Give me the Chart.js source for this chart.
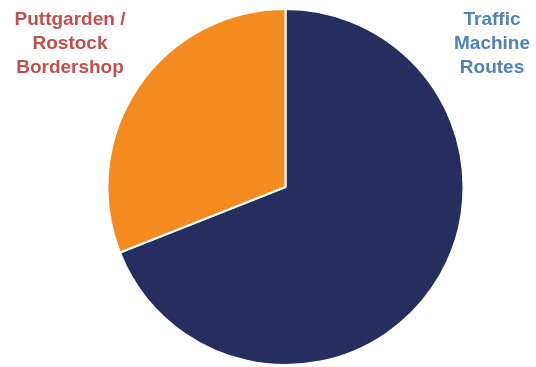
<!DOCTYPE html>
<html>
<head>
<meta charset="utf-8">
<script src="https://cdn.jsdelivr.net/npm/chart.js@4"></script>
<style>
  html, body { margin: 0; padding: 0; background: #fff; }
  #wrap { width: 536px; height: 367px; }
</style>
</head>
<body>
<div id="wrap"><canvas id="pie"></canvas></div>
<script>
const categories = ["Traffic Machine Routes", "Puttgarden / Rostock Bordershop"];
const shares = [69, 31];
const sliceColors = ["#252e5e", "#f48b1f"];

// labels outside the pie, drawn as text in the corners
const cornerLabels = {
  id: "cornerLabels",
  afterDraw(chart) {
    const ctx = chart.ctx;
    ctx.save();
    ctx.font = "bold 19px 'Liberation Sans', Arial, sans-serif";
    ctx.textAlign = "center";
    ctx.textBaseline = "alphabetic";
    ctx.fillStyle = "#c0504d";
    ["Puttgarden /", "Rostock", "Bordershop"].forEach((t, i) => ctx.fillText(t, 70, 25 + i * 24));
    ctx.fillStyle = "#4f81bd";
    ["Traffic", "Machine", "Routes"].forEach((t, i) => ctx.fillText(t, 492, 25 + i * 24));
    ctx.restore();
  }
};

new Chart(document.getElementById("pie"), {
  type: "pie",
  data: {
    labels: categories,
    datasets: [{
      data: shares,
      backgroundColor: sliceColors,
      borderColor: "#ffffff",
      borderWidth: 2
    }]
  },
  options: {
    responsive: true,
    maintainAspectRatio: false,
    animation: false,
    layout: { padding: { top: 8, bottom: 1, left: 35, right: 0 } },
    plugins: {
      legend: { display: false },
      tooltip: { enabled: false }
    }
  },
  plugins: [cornerLabels]
});
</script>
</body>
</html>
